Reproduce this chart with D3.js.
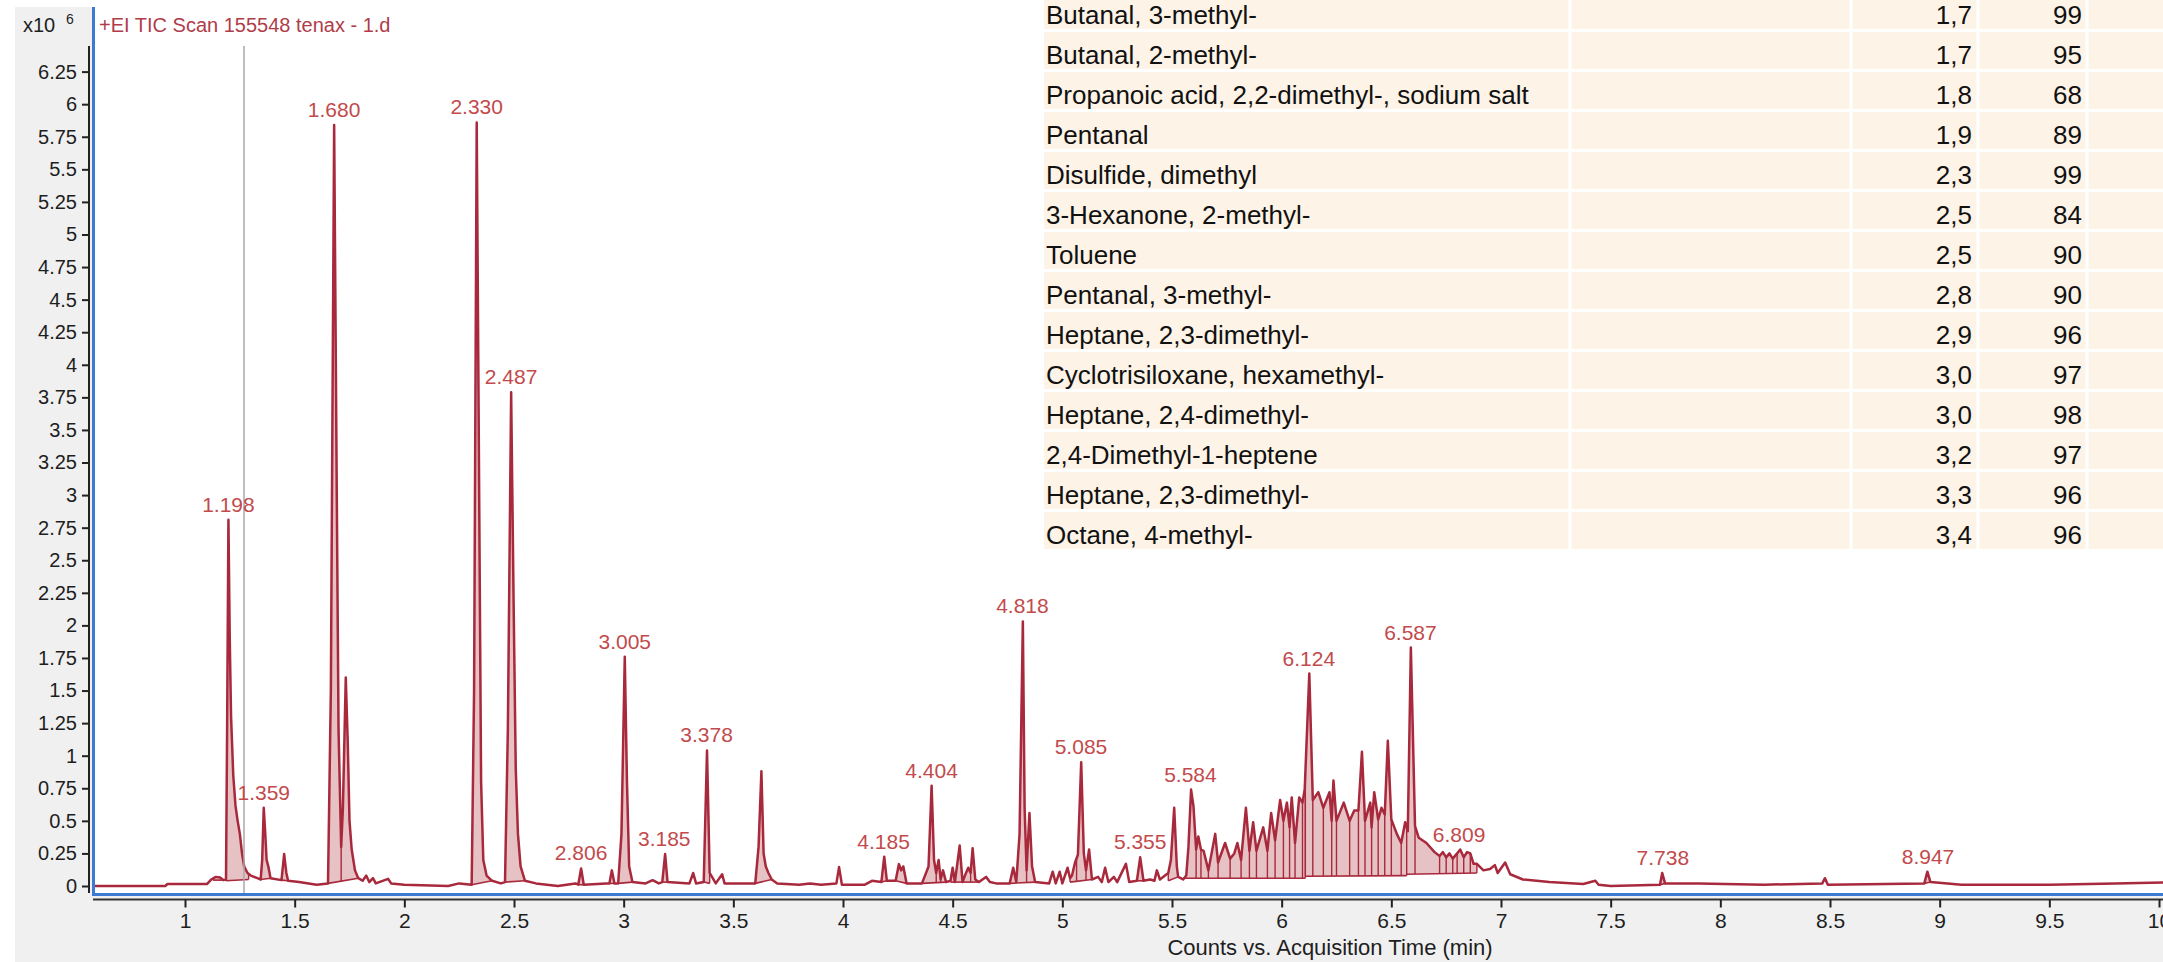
<!DOCTYPE html>
<html>
<head>
<meta charset="utf-8">
<script src="https://cdn.jsdelivr.net/npm/d3@7"></script>
<style>
  body { margin: 0; background: #fff; }
  svg { display: block; }
</style>
</head>
<body>
<div class="tic-div"></div>
<script>

//--------------------------- Data

// retention time (min) and counts (x10^6) of the TIC trace
var rt = [0.57, 0.91, 0.92, 1.10, 1.12, 1.14, 1.16, 1.175, 1.187, 1.192, 1.198, 1.204, 1.21, 1.22, 1.23, 1.24, 1.25, 1.26, 1.27, 1.285,
  1.30, 1.33, 1.345, 1.352, 1.359, 1.366, 1.372, 1.38, 1.39, 1.44, 1.452, 1.462, 1.47, 1.52, 1.60, 1.652, 1.665, 1.680, 1.692, 1.70,
  1.712, 1.72, 1.733, 1.742, 1.75, 1.76, 1.775, 1.79, 1.81, 1.826, 1.84, 1.857, 1.87, 1.926, 1.94, 2.0, 2.2, 2.25, 2.307, 2.318,
  2.330, 2.342, 2.35, 2.36, 2.375, 2.40, 2.44, 2.459, 2.472, 2.487, 2.498, 2.508, 2.518, 2.53, 2.55, 2.60, 2.70, 2.78, 2.793, 2.806,
  2.818, 2.92, 2.935, 2.946, 2.958, 2.975, 2.99, 3.005, 3.015, 3.025, 3.04, 3.1, 3.132, 3.16, 3.176, 3.189, 3.2, 3.3, 3.317, 3.33,
  3.365, 3.38, 3.392, 3.42, 3.449, 3.46, 3.6, 3.615, 3.628, 3.638, 3.648, 3.66, 3.675, 3.70, 3.8, 3.85, 3.9, 3.97, 3.982, 3.995,
  4.1, 4.132, 4.175, 4.188, 4.2, 4.24, 4.255, 4.265, 4.275, 4.29, 4.36, 4.39, 4.404, 4.415, 4.425, 4.436, 4.445, 4.456, 4.47, 4.49,
  4.5, 4.51, 4.532, 4.545, 4.556, 4.571, 4.582, 4.591, 4.603, 4.62, 4.652, 4.67, 4.698, 4.76, 4.776, 4.79, 4.805, 4.82, 4.828, 4.837,
  4.85, 4.862, 4.876, 4.94, 4.956, 4.97, 4.988, 5.0, 5.024, 5.035, 5.044, 5.058, 5.071, 5.086, 5.098, 5.108, 5.122, 5.135, 5.163, 5.18,
  5.195, 5.21, 5.235, 5.25, 5.29, 5.305, 5.34, 5.355, 5.37, 5.4, 5.42, 5.431, 5.445, 5.483, 5.495, 5.51, 5.522, 5.528, 5.551, 5.565,
  5.575, 5.587, 5.598, 5.61, 5.62, 5.632, 5.644, 5.666, 5.697, 5.71, 5.742, 5.765, 5.784, 5.798, 5.815, 5.837, 5.853, 5.87, 5.885, 5.916,
  5.935, 5.952, 5.97, 5.993, 6.008, 6.024, 6.036, 6.046, 6.061, 6.08, 6.095, 6.105, 6.126, 6.142, 6.167, 6.19, 6.218, 6.228, 6.236, 6.25,
  6.283, 6.31, 6.331, 6.35, 6.366, 6.38, 6.404, 6.41, 6.422, 6.44, 6.455, 6.47, 6.484, 6.5, 6.525, 6.545, 6.563, 6.575, 6.589, 6.608,
  6.625, 6.66, 6.697, 6.72, 6.735, 6.75, 6.765, 6.78, 6.80, 6.814, 6.83, 6.845, 6.86, 6.875, 6.89, 6.92, 6.95, 6.972, 6.985, 7.019,
  7.042, 7.1, 7.22, 7.375, 7.43, 7.445, 7.5, 7.725, 7.735, 7.748, 7.9, 8.2, 8.465, 8.477, 8.49, 8.93, 8.944, 8.958, 9.1, 9.5,
  9.8, 10.08];
var counts = [0.0, 0.0, 0.015, 0.015, 0.05, 0.07, 0.065, 0.045, 0.05, 1.2, 2.81, 1.9, 1.3, 0.85, 0.62, 0.5, 0.4, 0.25, 0.15, 0.1,
  0.08, 0.06, 0.05, 0.2, 0.6, 0.4, 0.2, 0.15, 0.06, 0.045, 0.245, 0.1, 0.04, 0.03, 0.01, 0.02, 1.5, 5.84, 3.0, 1.2,
  0.3, 0.6, 1.6, 1.1, 0.5, 0.28, 0.12, 0.06, 0.04, 0.08, 0.03, 0.06, 0.02, 0.055, 0.02, 0.01, 0.0, 0.02, 0.01, 1.5,
  5.86, 2.8, 0.8, 0.2, 0.08, 0.04, 0.02, 0.03, 1.2, 3.79, 2.2, 0.9, 0.4, 0.15, 0.04, 0.02, 0.0, 0.02, 0.01, 0.135,
  0.01, 0.02, 0.02, 0.12, 0.02, 0.02, 0.4, 1.76, 0.8, 0.15, 0.03, 0.02, 0.045, 0.02, 0.03, 0.245, 0.03, 0.02, 0.1, 0.02,
  0.03, 1.04, 0.1, 0.02, 0.09, 0.02, 0.02, 0.3, 0.88, 0.25, 0.15, 0.1, 0.05, 0.02, 0.01, 0.02, 0.01, 0.02, 0.145, 0.01,
  0.01, 0.04, 0.03, 0.225, 0.04, 0.04, 0.168, 0.12, 0.15, 0.02, 0.02, 0.15, 0.77, 0.2, 0.1, 0.2, 0.05, 0.12, 0.03, 0.04,
  0.14, 0.03, 0.31, 0.03, 0.08, 0.14, 0.1, 0.29, 0.05, 0.03, 0.07, 0.03, 0.02, 0.02, 0.14, 0.03, 0.4, 2.03, 0.6, 0.12,
  0.56, 0.15, 0.03, 0.02, 0.11, 0.02, 0.11, 0.02, 0.14, 0.06, 0.08, 0.18, 0.24, 0.95, 0.25, 0.12, 0.28, 0.05, 0.07, 0.03,
  0.14, 0.03, 0.07, 0.03, 0.17, 0.03, 0.04, 0.22, 0.04, 0.05, 0.04, 0.12, 0.05, 0.1, 0.2, 0.6, 0.15, 0.07, 0.05, 0.08,
  0.3, 0.74, 0.61, 0.28, 0.38, 0.28, 0.27, 0.12, 0.40, 0.18, 0.33, 0.21, 0.25, 0.33, 0.2, 0.6, 0.27, 0.49, 0.27, 0.45,
  0.27, 0.56, 0.35, 0.66, 0.5, 0.64, 0.45, 0.68, 0.33, 0.68, 0.64, 0.74, 1.63, 0.66, 0.72, 0.6, 0.72, 0.5, 0.81, 0.5,
  0.64, 0.5, 0.58, 0.58, 1.03, 0.5, 0.64, 0.45, 0.72, 0.51, 0.6, 0.55, 1.115, 0.51, 0.40, 0.33, 0.49, 0.42, 1.83, 0.46,
  0.37, 0.33, 0.26, 0.23, 0.26, 0.22, 0.25, 0.21, 0.25, 0.28, 0.22, 0.26, 0.25, 0.17, 0.17, 0.12, 0.13, 0.16, 0.1, 0.18,
  0.09, 0.05, 0.03, 0.015, 0.04, 0.01, 0.0, 0.01, 0.1, 0.02, 0.02, 0.01, 0.02, 0.06, 0.01, 0.02, 0.11, 0.03, 0.01, 0.01,
  0.02, 0.03];

// integrated peaks: start, end, baseline at start / end, inner drop lines
var intStart = [1.128, 1.187, 1.345, 1.44, 1.652, 2.307, 2.459, 2.793, 2.935, 2.975, 3.176, 3.365, 3.60, 4.175, 4.24, 4.36, 4.49, 4.76, 5.035, 5.34, 5.483, 5.551, 6.108, 6.57, 7.725, 8.93];
var intEnd = [1.187, 1.29, 1.39, 1.47, 1.79, 2.40, 2.55, 2.818, 2.958, 3.04, 3.2, 3.392, 3.675, 4.2, 4.29, 4.47, 4.62, 4.876, 5.135, 5.37, 5.528, 6.108, 6.57, 6.89, 7.748, 8.958];
var intBase0 = [0.045, 0.04, 0.05, 0.045, 0.02, 0.01, 0.03, 0.01, 0.02, 0.02, 0.03, 0.03, 0.02, 0.03, 0.04, 0.02, 0.03, 0.02, 0.03, 0.04, 0.04, 0.06, 0.075, 0.09, 0.01, 0.02];
var intBase1 = [0.045, 0.05, 0.06, 0.04, 0.06, 0.04, 0.04, 0.01, 0.02, 0.03, 0.03, 0.02, 0.05, 0.04, 0.02, 0.03, 0.03, 0.03, 0.05, 0.04, 0.07, 0.06, 0.08, 0.1, 0.02, 0.03];
var intDrops = [[], [], [], [], [1.712], [], [], [], [], [], [], [], [], [], [], [4.425, 4.445], [4.51, 4.545, 4.582], [4.79, 4.837], [5.065, 5.108], [], [],
  [5.61, 5.632, 5.666, 5.71, 5.765, 5.815, 5.853, 5.885, 5.935, 5.97, 6.008, 6.036, 6.061, 6.095],
  [6.142, 6.19, 6.228, 6.25, 6.31, 6.35, 6.38, 6.41, 6.44, 6.47, 6.5, 6.545],
  [6.608, 6.72, 6.75, 6.78, 6.80, 6.83, 6.86], [], []];

// labelled peaks
var peakLabels = [1.198, 1.359, 1.680, 2.330, 2.487, 2.806, 3.005, 3.185, 3.378, 4.185, 4.404, 4.818, 5.085, 5.355, 5.584, 6.124, 6.587, 6.809, 7.738, 8.947];

// axes
var xTicks = [1, 1.5, 2, 2.5, 3, 3.5, 4, 4.5, 5, 5.5, 6, 6.5, 7, 7.5, 8, 8.5, 9, 9.5, 10];
var yTicks = [0, 0.25, 0.5, 0.75, 1, 1.25, 1.5, 1.75, 2, 2.25, 2.5, 2.75, 3, 3.25, 3.5, 3.75, 4, 4.25, 4.5, 4.75, 5, 5.25, 5.5, 5.75, 6, 6.25];
var cursorTime = 1.269;

// library search hits table
var hitNames = ["Butanal, 3-methyl-", "Butanal, 2-methyl-", "Propanoic acid, 2,2-dimethyl-, sodium salt", "Pentanal",
  "Disulfide, dimethyl", "3-Hexanone, 2-methyl-", "Toluene", "Pentanal, 3-methyl-", "Heptane, 2,3-dimethyl-",
  "Cyclotrisiloxane, hexamethyl-", "Heptane, 2,4-dimethyl-", "2,4-Dimethyl-1-heptene", "Heptane, 2,3-dimethyl-", "Octane, 4-methyl-"];
var hitRT = ["1,7", "1,7", "1,8", "1,9", "2,3", "2,5", "2,5", "2,8", "2,9", "3,0", "3,0", "3,2", "3,3", "3,4"];
var hitScore = ["99", "95", "68", "89", "99", "84", "90", "90", "96", "97", "98", "97", "96", "96"];

//--------------------------- SVG definition

var width = 2163;
var height = 962;
var font = "'Liberation Sans', Arial, sans-serif";
var traceColor = "#a8283c";
var fillColor = "#e7c2c4";
var labelColor = "#c24a4c";

var svg = d3.select("div.tic-div")
  .append("svg")
  .attr("width", width)
  .attr("height", height)
  .style("font-family", font);

var x = d3.scaleLinear().domain([1, 10]).range([185, 2159]);
var y = d3.scaleLinear().domain([0, 6.25]).range([886, 71.6]);

//--------------------------- Frame

svg.append("rect").attr("x", 15).attr("y", 7).attr("width", 78).attr("height", height - 7).attr("fill", "#f0f0f0");
svg.append("rect").attr("x", 15).attr("y", 896).attr("width", width - 15).attr("height", height - 896).attr("fill", "#f0f0f0");

svg.append("defs").append("clipPath").attr("id", "plotclip")
  .append("rect").attr("x", 95).attr("y", 40).attr("width", width - 95).attr("height", 853);

//--------------------------- Trace helpers

var trace = rt.map(function (t, i) { return [t, counts[i]]; });

function valueAt(t) {
  for (var i = 1; i < trace.length; i++) {
    if (trace[i][0] >= t) {
      var a = trace[i - 1], b = trace[i];
      return a[1] + (b[1] - a[1]) * (t - a[0]) / (b[0] - a[0]);
    }
  }
  return trace[trace.length - 1][1];
}

var plot = svg.append("g").attr("clip-path", "url(#plotclip)");

//--------------------------- Integrated areas

for (var k = 0; k < intStart.length; k++) {
  var s = intStart[k], e = intEnd[k], b0 = intBase0[k], b1 = intBase1[k];
  var base = (function (s, e, b0, b1) {
    return function (t) { return b0 + (b1 - b0) * (t - s) / (e - s); };
  })(s, e, b0, b1);
  var pts = [[s, valueAt(s)]].concat(trace.filter(function (d) { return d[0] > s && d[0] < e; }), [[e, valueAt(e)]]);

  plot.append("path")
    .datum(pts)
    .attr("d", d3.area()
      .x(function (d) { return x(d[0]); })
      .y0(function (d) { return y(base(d[0])); })
      .y1(function (d) { return y(d[1]); }))
    .attr("fill", fillColor);

  plot.append("line")
    .attr("x1", x(s)).attr("y1", y(b0))
    .attr("x2", x(e)).attr("y2", y(b1))
    .attr("stroke", traceColor).attr("stroke-width", 1.6);

  [s].concat(intDrops[k], [e]).forEach(function (t) {
    plot.append("line")
      .attr("x1", x(t)).attr("x2", x(t))
      .attr("y1", y(base(t))).attr("y2", y(valueAt(t)))
      .attr("stroke", traceColor).attr("stroke-width", 1.4);
  });
}

//--------------------------- Trace

plot.append("path")
  .datum(trace)
  .attr("d", d3.line()
    .x(function (d) { return x(d[0]); })
    .y(function (d) { return y(d[1]); }))
  .attr("fill", "none")
  .attr("stroke", traceColor)
  .attr("stroke-width", 2.5)
  .attr("stroke-linejoin", "round");

//--------------------------- Cursor line

svg.append("line")
  .attr("x1", x(cursorTime)).attr("x2", x(cursorTime))
  .attr("y1", 46).attr("y2", 893)
  .attr("stroke", "#a8a8a8").attr("stroke-width", 1.5);

//--------------------------- Peak labels

peakLabels.forEach(function (t) {
  var apex = d3.max(trace.filter(function (d) { return Math.abs(d[0] - t) <= 0.012; }), function (d) { return d[1]; });
  svg.append("text")
    .attr("x", x(t))
    .attr("y", y(apex) - 8)
    .attr("text-anchor", "middle")
    .attr("font-size", 21)
    .attr("fill", labelColor)
    .text(d3.format(".3f")(t));
});

//--------------------------- Blue frame and axes

svg.append("line").attr("x1", 93.5).attr("x2", 93.5).attr("y1", 7).attr("y2", 896)
  .attr("stroke", "#3b7bd6").attr("stroke-width", 3);
svg.append("line").attr("x1", 92).attr("x2", width).attr("y1", 894.5).attr("y2", 894.5)
  .attr("stroke", "#3b7bd6").attr("stroke-width", 3);
svg.append("line").attr("x1", 89).attr("x2", 89).attr("y1", 46).attr("y2", 893)
  .attr("stroke", "#222").attr("stroke-width", 2);
svg.append("line").attr("x1", 93).attr("x2", width).attr("y1", 899.5).attr("y2", 899.5)
  .attr("stroke", "#333").attr("stroke-width", 2);

var yAxis = svg.append("g")
  .attr("transform", "translate(89,0)")
  .call(d3.axisLeft(y).tickValues(yTicks).tickSize(7).tickPadding(5).tickFormat(function (d) { return String(d); }));
var xAxis = svg.append("g")
  .attr("transform", "translate(0,899.5)")
  .call(d3.axisBottom(x).tickValues(xTicks).tickSize(8).tickPadding(6).tickFormat(function (d) { return String(d); }));

[yAxis, xAxis].forEach(function (g) {
  g.select(".domain").remove();
  g.selectAll(".tick line").attr("stroke", "#222").attr("stroke-width", 2);
  g.selectAll(".tick text").attr("font-family", font).attr("fill", "#1e1e1e");
});
yAxis.selectAll(".tick text").attr("font-size", 20);
xAxis.selectAll(".tick text").attr("font-size", 21);

svg.append("text")
  .attr("x", 1330).attr("y", 955)
  .attr("text-anchor", "middle")
  .attr("font-size", 22)
  .attr("fill", "#1e1e1e")
  .text("Counts vs. Acquisition Time (min)");

//--------------------------- Titles

svg.append("text").attr("x", 23).attr("y", 32).attr("font-size", 20).attr("fill", "#1e1e1e").text("x10");
svg.append("text").attr("x", 66).attr("y", 24).attr("font-size", 14).attr("fill", "#1e1e1e").text("6");
svg.append("text").attr("x", 99).attr("y", 32).attr("font-size", 20).attr("fill", "#b03c4a")
  .text("+EI TIC Scan 155548 tenax - 1.d");

//--------------------------- Hits table

var table = svg.append("g");
var colEdges = [1044, 1570, 1851, 1978, 2087, width + 2];

hitNames.forEach(function (name, i) {
  var top = 40 * i - 8;
  for (var c = 0; c < colEdges.length - 1; c++) {
    table.append("rect")
      .attr("x", colEdges[c] + (c == 0 ? 0 : 1.5))
      .attr("y", top)
      .attr("width", colEdges[c + 1] - colEdges[c] - (c == 0 ? 1.5 : 3))
      .attr("height", 37)
      .attr("fill", "#fdf3e7");
  }
  table.append("text").attr("x", colEdges[0] + 2).attr("y", top + 32)
    .attr("font-size", 26).attr("fill", "#111").text(name);
  table.append("text").attr("x", colEdges[3] - 6).attr("y", top + 32)
    .attr("text-anchor", "end").attr("font-size", 26).attr("fill", "#111").text(hitRT[i]);
  table.append("text").attr("x", colEdges[4] - 5).attr("y", top + 32)
    .attr("text-anchor", "end").attr("font-size", 26).attr("fill", "#111").text(hitScore[i]);
});

</script>
</body>
</html>
